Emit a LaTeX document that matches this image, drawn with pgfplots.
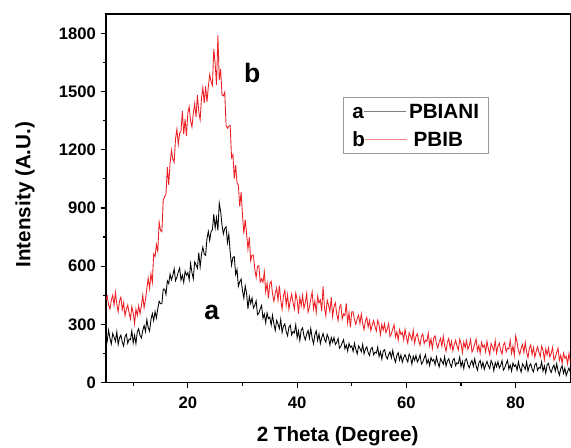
\documentclass[border=0pt]{standalone}
\usepackage{pgfplots}
\pgfplotsset{compat=1.18}
\usepackage{pgfplotstable}
\usepackage{fontspec}
\setmainfont{Liberation Sans}
\usetikzlibrary{calc}

\definecolor{xrdred}{RGB}{236,32,36}
\definecolor{legred}{RGB}{240,140,130}

% 2theta, a = PBIANI, b = PBIB
\pgfplotstableread{
x a b
5 252 425
5.25 215 445
5.5 270 400
5.75 228 380
6 199 425
6.25 253 450
6.5 234 400
6.75 212 465
7 261 405
7.25 196 365
7.5 231 420
7.75 245 440
8 208 375
8.25 188 412
8.5 237 345
8.75 249 378
9 202 400
9.25 224 359
9.5 221 328
9.75 267 391
10 204 360
10.25 244 304
10.5 201 378
10.75 261 346
11 277 395
11.25 243 355
11.5 230 395
11.75 268 450
12 294 385
12.25 263 428
12.5 324 485
12.75 284 538
13 265 485
13.25 324 561
13.5 356 516
13.75 319 663
14 366 650
14.25 333 712
14.5 380 677
14.75 419 827
15 406 784
15.25 406 778
15.5 482 940
15.75 482 958
16 454 968
16.25 524 1110
16.5 510 1019
16.75 559 1129
17 529 1198
17.25 552 1151
17.5 586 1136
17.75 525 1257
18 543 1306
18.25 569 1228
18.5 590 1285
18.75 528 1295
19 553 1400
19.25 516 1280
19.5 574 1359
19.75 553 1271
20 567 1390
20.25 530 1422
20.5 614 1349
20.75 567 1317
21 535 1388
21.25 622 1438
21.5 608 1368
21.75 589 1482
22 670 1396
22.25 596 1355
22.5 661 1466
22.75 698 1521
23 663 1440
23.25 656 1527
23.5 742 1446
23.75 779 1525
24 732 1588
24.25 778 1552
24.5 789 1532
24.75 868 1720
25 797 1644
25.25 850 1533
25.5 785 1790
25.75 925 1559
26 884 1616
26.25 812 1483
26.5 766 1478
26.75 794 1497
27 803 1324
27.25 721 1311
27.5 765 1322
27.75 671 1325
28 605 1160
28.25 646 1174
28.5 649 1051
28.75 557 1121
29 582 1030
29.25 496 1017
29.5 520 907
29.75 533 982
30 474 864
30.25 435 768
30.5 499 840
30.75 460 768
31 380 688
31.25 443 749
31.5 407 628
31.75 436 657
32 384 656
32.25 397 587
32.5 421 542
32.75 350 599
33 358 602
33.25 380 518
33.5 398 535
33.75 331 517
34 353 570
34.25 308 467
34.5 359 513
34.75 330 434
35 337 510
35.25 296 522
35.5 347 456
35.75 302 419
36 269 461
36.25 321 488
36.5 302 425
36.75 278 500
37 326 425
37.25 258 379
37.5 291 448
37.75 303 475
38 263 400
38.25 241 452
38.5 286 377
38.75 296 423
39 245 456
39.25 263 412
39.5 256 379
39.75 298 461
40 231 428
40.25 266 355
40.5 217 439
40.75 271 396
41 282 450
41.25 241 383
41.5 220 412
41.75 250 460
42 269 363
42.25 228 388
42.5 279 430
42.75 229 467
43 200 378
43.25 247 420
43.5 266 361
43.75 216 445
44 251 410
44.25 201 426
44.5 231 369
44.75 253 495
45 224 388
45.25 208 344
45.5 248 425
45.75 231 399
46 193 366
46.25 232 440
46.5 208 341
46.75 232 391
47 196 411
47.25 207 353
47.5 228 320
47.75 177 388
48 186 402
48.25 205 327
48.5 221 354
48.75 174 345
49 194 408
49.25 162 308
49.5 202 359
49.75 182 284
50 189 365
50.25 161 365
50.5 202 322
50.75 170 300
51 148 329
51.25 189 347
51.5 176 304
51.75 159 354
52 197 303
52.25 148 273
52.5 173 318
52.75 184 336
53 155 285
53.25 139 319
53.5 173 268
53.75 181 298
54 143 319
54.25 157 289
54.5 152 266
54.75 183 320
55 134 297
55.25 159 247
55.5 121 300
55.75 162 270
56 169 303
56.25 138 257
56.5 122 274
56.75 144 304
57 158 237
57.25 127 251
57.5 165 276
57.75 127 298
58 105 235
58.25 140 261
58.5 154 219
58.75 116 273
59 142 248
59.25 105 258
59.5 128 220
59.75 144 274
60 122 232
60.25 106 203
60.5 147 257
60.75 132 240
61 95 218
61.25 136 269
61.5 114 203
61.75 140 238
62 106 252
62.25 120 215
62.5 144 193
62.75 95 239
63 106 250
63.25 126 200
63.5 144 218
63.75 98 213
64 118 255
64.25 88 190
64.5 129 225
64.75 111 175
65 119 230
65.25 92 241
65.5 133 200
65.75 103 178
66 81 209
66.25 123 228
66.5 110 187
66.75 95 239
67 133 190
67.25 85 161
67.5 111 208
67.75 123 227
68 95 178
68.25 80 213
68.5 115 164
68.75 124 195
69 87 218
69.25 102 189
69.5 98 168
69.75 131 223
70 82 202
70.25 109 154
70.5 72 209
70.75 114 180
71 122 216
71.25 92 171
71.5 76 190
71.75 100 222
72 114 157
72.25 84 173
72.5 122 200
72.75 86 224
73 64 164
73.25 100 191
73.5 114 151
73.75 78 207
74 104 182
74.25 68 194
74.5 91 158
74.75 109 213
75 87 173
75.25 72 145
75.5 113 201
75.75 98 184
76 61 164
76.25 103 216
76.5 81 152
76.75 108 187
77 75 203
77.25 89 167
77.5 113 147
77.75 64 194
78 76 206
78.25 97 158
78.5 114 177
78.75 69 173
79 90 217
79.25 59 152
79.5 101 188
79.75 83 140
80 91 240
80.25 64 207
80.5 106 166
80.75 75 145
81 54 177
81.25 96 196
81.5 84 155
81.75 68 207
82 107 158
82.25 59 129
82.5 86 176
82.75 97 194
83 70 145
83.25 55 180
83.5 91 131
83.75 99 161
84 63 184
84.25 78 155
84.5 74 134
84.75 107 188
85 59 167
85.25 85 118
85.5 49 173
85.75 91 143
86 99 178
86.25 68 132
86.5 52 150
86.75 76 181
87 90 115
87.25 59 129
87.5 97 155
87.75 60 177
88 38 115
88.25 72 141
88.5 86 98
88.75 48 152
89 74 125
89.25 36 135
89.5 58 96
89.75 75 150
90 52 107
}\xrd

\begin{document}
\begin{tikzpicture}
\begin{axis}[
  scale only axis,
  width=348.75pt, height=276.75pt,
  xmin=5, xmax=90, ymin=0, ymax=1900,
  xtick={20,40,60,80}, minor xtick={10,30,50,70},
  ytick={0,300,...,1800}, minor ytick={150,450,...,1650},
  tick pos=left, tick align=outside,
  major tick length=4pt, minor tick length=2.5pt,
  axis line style={line width=1pt},
  every tick/.style={black, line width=0.9pt},
  tick label style={font=\bfseries\fontsize{12.5}{14}\selectfont},
  xticklabel style={yshift=-3pt},
  /pgf/number format/assume math mode=true,
  /pgf/number format/1000 sep={},
]
\coordinate (sw) at (rel axis cs:0,0);
\coordinate (ne) at (rel axis cs:1,1);
\addplot[xrdred, line width=0.65pt] table[x=x, y=b] {\xrd};
\addplot[black, line width=0.65pt] table[x=x, y=a] {\xrd};
\node[font=\bfseries\fontsize{20}{22}\selectfont] at (axis cs:31.8,1598) {b};
\node[font=\bfseries\fontsize{20}{22}\selectfont] at (axis cs:24.4,361) {a};
\node[draw=gray!80, line width=0.6pt, anchor=north west, inner xsep=7pt, inner ysep=5pt,
      font=\bfseries\fontsize{15.5}{21}\selectfont, align=left]
  at (rel axis cs:0.51,0.775)
  {a\textcolor{gray}{\rule[0.33em]{1.1cm}{0.6pt}}\,PBIANI\\
   b\textcolor{legred}{\rule[0.33em]{1.1cm}{0.6pt}}\,\,PBIB};
\end{axis}
\node[rotate=90, font=\bfseries\fontsize{15.5}{18}\selectfont]
  at ($(sw)!0.51!(sw|-ne)+(-60.75pt,0)$) {Intensity (A.U.)};
\node[font=\bfseries\fontsize{15.5}{18}\selectfont]
  at ($(sw)!0.499!(ne|-sw)+(0,-40.5pt)$) {2 Theta (Degree)};
\pgfresetboundingbox
\path ($(sw)+(-79.5pt,-48.75pt)$) rectangle ($(ne)+(0.5pt,10.5pt)$);
\end{tikzpicture}
\end{document}
